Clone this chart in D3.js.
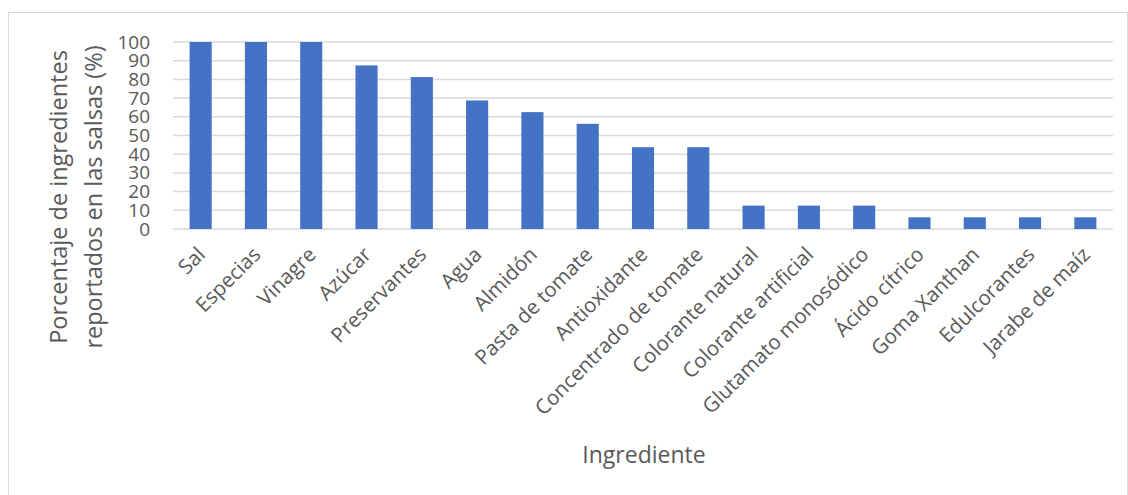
<!DOCTYPE html>
<html>
<head>
<meta charset="utf-8">
<script src="https://cdn.jsdelivr.net/npm/d3@7"></script>
<style>
  html, body { margin: 0; padding: 0; background: #fff; }
  svg { display: block; }
  text { font-family: "Open Sans", "Noto Sans", sans-serif; fill: #595959; }
</style>
</head>
<body>
<svg id="chart" width="1128" height="495"></svg>
<script>
// Ingredients listed in the sauces and the share of sauces reporting each (%)
const ingredientes = [
  "Sal", "Especias", "Vinagre", "Azúcar", "Preservantes", "Agua", "Almidón",
  "Pasta de tomate", "Antioxidante", "Concentrado de tomate", "Colorante natural",
  "Colorante artificial", "Glutamato monosódico", "Ácido cítrico", "Goma Xanthan",
  "Edulcorantes", "Jarabe de maíz"
];
const porcentajes = [
  100, 100, 100, 87.5, 81.25, 68.75, 62.5, 56.25, 43.75, 43.75,
  12.5, 12.5, 12.5, 6.25, 6.25, 6.25, 6.25
];
const yTicks = [0, 10, 20, 30, 40, 50, 60, 70, 80, 90, 100];
const yTitleLines = ["Porcentaje de ingredientes", "reportados en las salsas (%)"];
const xTitle = "Ingrediente";

const svg = d3.select("#chart");
const W = 1128, H = 495;

// Outer chart frame
svg.append("rect")
  .attr("x", 8.5).attr("y", 12.5)
  .attr("width", W - 9).attr("height", H)
  .attr("fill", "#fff").attr("stroke", "#d9d9d9").attr("stroke-width", 1);

const plot = { left: 173, right: 1113, top: 42, bottom: 229 };

const x = d3.scaleBand()
  .domain(ingredientes)
  .range([plot.left, plot.right])
  .paddingInner(0.6)
  .paddingOuter(0.3);

const y = d3.scaleLinear()
  .domain([0, 100])
  .range([plot.bottom, plot.top]);

// Horizontal gridlines
svg.append("g")
  .selectAll("line")
  .data(yTicks)
  .join("line")
  .attr("x1", plot.left).attr("x2", plot.right)
  .attr("y1", d => y(d)).attr("y2", d => y(d))
  .attr("stroke", "#d9d9d9").attr("stroke-width", 1.5);

// Bars
svg.append("g")
  .selectAll("rect")
  .data(ingredientes)
  .join("rect")
  .attr("x", d => x(d))
  .attr("width", x.bandwidth())
  .attr("y", (d, i) => y(porcentajes[i]))
  .attr("height", (d, i) => y(0) - y(porcentajes[i]))
  .attr("fill", "#4472c4");

// Y axis tick labels
const yAxis = d3.axisLeft(y).tickValues(yTicks).tickSize(0).tickPadding(23);
const gy = svg.append("g").attr("transform", `translate(${plot.left},0)`).call(yAxis);
gy.select(".domain").remove();
gy.selectAll("text")
  .style("font-family", "'Open Sans', sans-serif")
  .attr("font-size", 19).attr("fill", "#595959");

// X axis category labels, rotated 45°
const xAxis = d3.axisBottom(x).tickSize(0).tickPadding(0);
const gx = svg.append("g").attr("transform", `translate(0,${plot.bottom})`).call(xAxis);
gx.select(".domain").remove();
gx.selectAll("text")
  .style("font-family", "'Open Sans', sans-serif")
  .attr("font-size", 20.5).attr("fill", "#595959")
  .attr("text-anchor", "end")
  .attr("dy", null).attr("y", 0)
  .attr("transform", "translate(2,23) rotate(-45)")
  .attr("dominant-baseline", "middle");

// Axis titles
const yt = svg.append("text")
  .attr("transform", `translate(0,197) rotate(-90)`)
  .attr("text-anchor", "middle")
  .attr("font-size", 23.5);
yTitleLines.forEach((line, i) => {
  yt.append("tspan").attr("x", 0).attr("y", 67 + i * 35).text(line);
});

svg.append("text")
  .attr("x", 644).attr("y", 463)
  .attr("text-anchor", "middle")
  .attr("font-size", 23)
  .text(xTitle);
</script>
</body>
</html>
